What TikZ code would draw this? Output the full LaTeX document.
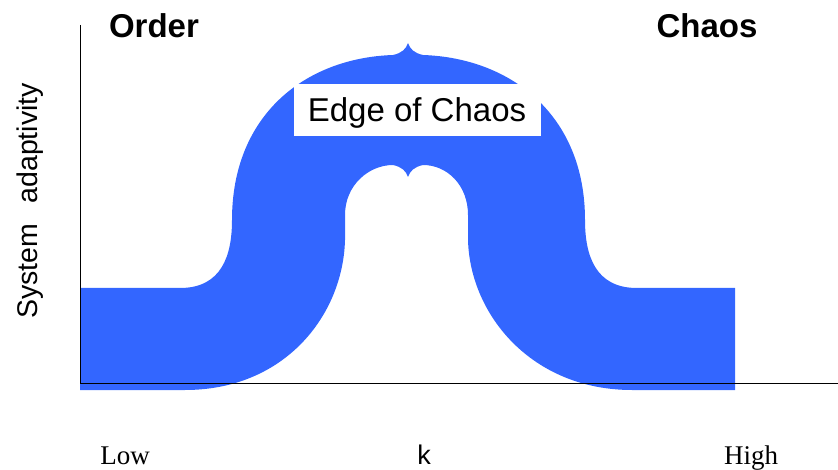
\documentclass[tikz,border=0pt]{standalone}
\usepackage{fontspec}
\setmainfont{Liberation Sans}
\newfontfamily\timesfont{Liberation Serif}
\usepackage{xcolor}
\usepackage{tikz}
\usetikzlibrary{positioning}
\definecolor{bandblue}{RGB}{51,102,255}

\begin{document}
\begin{tikzpicture}[
  x=1pt, y=-1pt,
  headtxt/.style={font=\fontsize{33}{38}\selectfont\bfseries, inner sep=0pt, anchor=base},
  endtxt/.style={font=\timesfont\fontsize{27}{30}\selectfont, inner sep=0pt, anchor=base},
  boxtxt/.style={fill=white, minimum width=247pt, minimum height=52pt, inner sep=0pt, text depth=0pt, font=\fontsize{33}{38}\selectfont},
  axisline/.style={line width=1pt, black}
]
\useasboundingbox (0,0) rectangle (838,470);

\fill[bandblue] (80,288) -- (180,288)
  .. controls (222,288) and (232,255) .. (232,220)
  .. controls (232,115) and (305,58) .. (393,55)
  .. controls (402,53) and (406,49) .. (408,43)
  .. controls (410,49) and (414,53) .. (423,55)
  .. controls (511,58) and (585,115) .. (585,220)
  .. controls (585,255) and (595,288) .. (637,288)
  -- (735,288) -- (735,390) -- (632,390)
  .. controls (532,390) and (470,315) .. (468,240)
  -- (468,215)
  .. controls (468,185) and (447,165) .. (423,165)
  .. controls (414,167) and (410,171) .. (408,177)
  .. controls (406,171) and (402,167) .. (393,165)
  .. controls (369,165) and (345,185) .. (345,215)
  -- (345,240)
  .. controls (343,315) and (285,390) .. (185,390)
  -- (80,390) -- cycle;

\coordinate (O) at (80,383);
\coordinate (YT) at (80,25);
\coordinate (XE) at (838,383);
\draw[axisline] (YT) -- (O) -- (XE);

\node[headtxt] (OR) at (154,38) {Order};
\node[headtxt] (CH) at (707,38) {Chaos};
\node[boxtxt] (EC) at (417,110) {Edge of Chaos};
\node[rotate=90, anchor=base, inner sep=0pt, font=\fontsize{28.5}{31}\selectfont] (SA) at (37,201) {System\hspace{0.72em}adaptivity};
\node[endtxt] (LO) at (125,464) {Low};
\node[anchor=base, inner sep=0pt, font=\fontsize{27}{30}\selectfont] (K) at (424,464) {k};
\node[endtxt] (HI) at (751,464) {High};
\end{tikzpicture}
\end{document}
